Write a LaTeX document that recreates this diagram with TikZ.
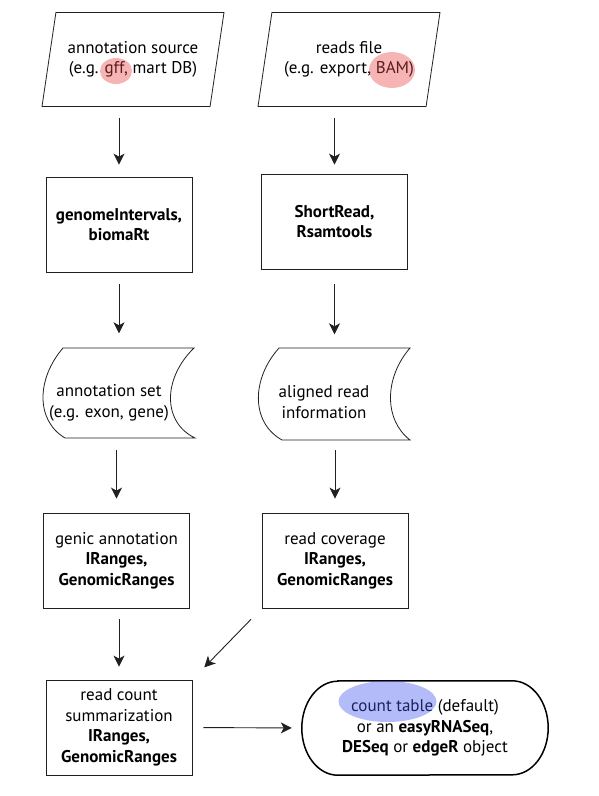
\documentclass[tikz,border=0pt]{standalone}
\usepackage{fontspec}
\setmainfont{PT Sans}
\usetikzlibrary{arrows.meta, shapes.geometric}
\definecolor{ink}{RGB}{35,31,32}
\definecolor{spotred}{RGB}{235,68,68}
\definecolor{spotblue}{RGB}{65,88,238}
\tikzset{
  txt/.style={font=\fontsize{17}{20.5}\selectfont, align=center, inner sep=0pt},
  stepbox/.style={txt, draw=ink, line width=0.8pt, minimum width=146pt, minimum height=95pt},
  srcbox/.style={txt, trapezium, trapezium left angle=69, trapezium right angle=111,
    trapezium stretches body, draw=ink, line width=0.8pt, minimum width=182pt, minimum height=94pt},
  tapebox/.style={minimum width=152pt, minimum height=91pt, inner sep=0pt},
  flow/.style={draw=ink, line width=0.9pt, -{Stealth[length=11pt,width=11pt,inset=3pt]}},
  spot/.style={ellipse, fill opacity=0.4, inner sep=0pt},
}
\begin{document}
\begin{tikzpicture}[x=1pt, y=-1pt]
\useasboundingbox (0,0) rectangle (599,796);
% inputs
\node[srcbox] (src) at (133,59.5) {annotation source\\(e.g. gff, mart DB)};
\node[srcbox] (rds) at (349,59.5) {reads file\\(e.g. export, BAM)};
% packages
\node[stepbox] (gi) at (119,224.5) {\textbf{genomeIntervals,}\\\textbf{biomaRt}};
\node[stepbox] (sr) at (334.5,221.5) {\textbf{ShortRead,}\\\textbf{Rsamtools}};
% stored data
\node[tapebox] (aset) at (119,393) {};
\node[tapebox] (ari) at (334,394) {};
\draw[ink, line width=0.8pt] (63,348) -- (194,348) .. controls (163,378) and (162,422) .. (195,438)
  -- (65,438) .. controls (35,420) and (37,378) .. cycle;
\draw[ink, line width=0.8pt] (279,348) -- (410,348) .. controls (384,378) and (384,420) .. (410,440)
  -- (282,440) .. controls (250,422) and (252,378) .. cycle;
\node[txt] (asettxt) at (109,403) {annotation set\\(e.g. exon, gene)};
\node[txt] (aritxt) at (324,402) {aligned read\\information};
% ranges
\node[stepbox] (ga) at (116.5,560.5) {genic annotation\\\textbf{IRanges,}\\\textbf{GenomicRanges}};
\node[stepbox] (rc) at (335,560.5) {read coverage\\\textbf{IRanges,}\\\textbf{GenomicRanges}};
\node[stepbox] (rcs) at (119,727.5) {read count\\summarization\\\textbf{IRanges,}\\\textbf{GenomicRanges}};
% result
\node[txt, minimum width=246pt, minimum height=94pt] (out) at (425,728)
  {count table (default)\\or an \textbf{easyRNASeq},\\\textbf{DESeq} or \textbf{edgeR} object};
\draw[black, line width=1.5pt] ([xshift=36pt]out.north west) -- ([xshift=-36pt]out.north east)
  arc[start angle=90, end angle=-90, x radius=36pt, y radius=47pt]
  -- ([xshift=36pt]out.south west)
  arc[start angle=270, end angle=90, x radius=36pt, y radius=47pt] -- cycle;
% arrows
\draw[flow, shorten <=11pt, shorten >=12pt] (gi.north |- src.south) -- (gi.north);
\draw[flow, shorten <=11pt, shorten >=9pt] (sr.north |- rds.south) -- (sr.north);
\draw[flow, shorten <=12pt, shorten >=14pt] (gi.south) -- (gi.south |- aset.north);
\draw[flow, shorten <=15pt, shorten >=14pt] (sr.south) -- (sr.south |- ari.north);
\draw[flow, shorten <=11.5pt, shorten >=14pt] (ga.north |- aset.south) -- (ga.north);
\draw[flow, shorten <=10.5pt, shorten >=14pt] (rc.north |- ari.south) -- (rc.north);
\draw[flow, shorten <=11pt, shorten >=13pt] (rcs.north |- ga.south) -- (rcs.north);
\draw[flow, shorten <=15pt, shorten >=17pt] (rc.south west) -- (rcs.north east);
\draw[flow, shorten <=11pt, shorten >=10pt] (rcs.east) -- (out.west);
% highlights
\node[spot, fill=spotred, minimum width=32pt, minimum height=26pt] (gffspot) at (116,71) {};
\node[spot, fill=spotred, minimum width=46pt, minimum height=36pt] (bamspot) at (392,70) {};
\node[spot, fill=spotblue, minimum width=98pt, minimum height=41pt] (cntspot) at (387.5,701.5) {};
\end{tikzpicture}
\end{document}
